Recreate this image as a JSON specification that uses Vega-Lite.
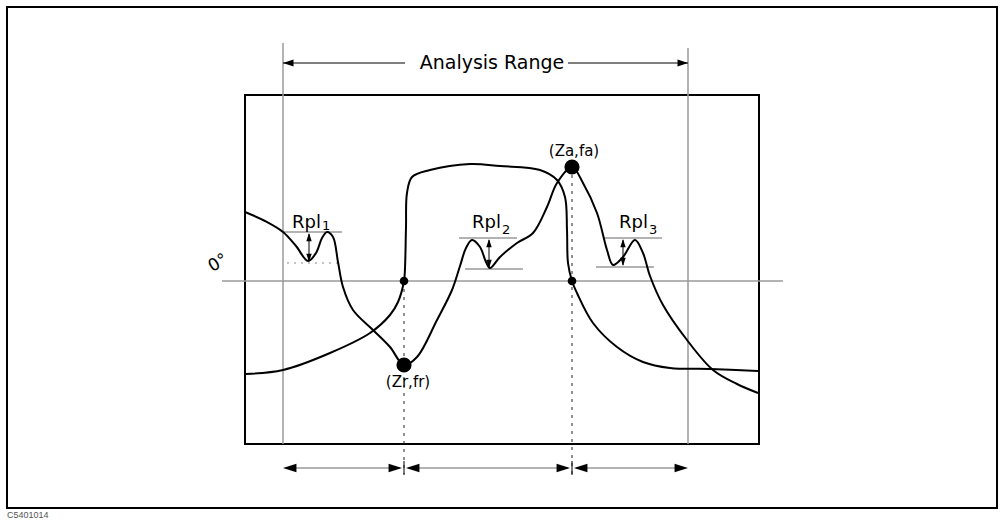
{
  "$schema": "https://vega.github.io/schema/vega-lite/v6.json",
  "width": 1002,
  "height": 521,
  "autosize": {"type": "none"},
  "padding": 0,
  "background": "white",
  "config": {"view": {"stroke": null}},
  "datasets": {
    "rects": [
      {"x": 7, "y": 7, "x2": 997, "y2": 508},
      {"x": 245, "y": 95, "x2": 759, "y2": 444}
    ],
    "gray": [
      {"x": 283, "x2": 283, "y": 43, "y2": 444},
      {"x": 688, "x2": 688, "y": 48, "y2": 444},
      {"x": 222, "x2": 783, "y": 281, "y2": 281},
      {"x": 283, "x2": 342, "y": 232, "y2": 232},
      {"x": 459, "x2": 517, "y": 238, "y2": 238},
      {"x": 465, "x2": 523, "y": 269, "y2": 269},
      {"x": 604, "x2": 662, "y": 238, "y2": 238},
      {"x": 596, "x2": 654, "y": 267, "y2": 267},
      {"x": 286, "x2": 400, "y": 468, "y2": 468},
      {"x": 408, "x2": 568, "y": 468, "y2": 468},
      {"x": 576, "x2": 685, "y": 468, "y2": 468}
    ],
    "dotted": [
      {"x": 287, "x2": 342, "y": 263, "y2": 263}
    ],
    "dashed": [
      {"x": 404, "x2": 404, "y": 281, "y2": 474},
      {"x": 572, "x2": 572, "y": 167, "y2": 474}
    ],
    "thin": [
      {"x": 283, "x2": 405, "y": 63, "y2": 63},
      {"x": 568, "x2": 688, "y": 63, "y2": 63},
      {"x": 309, "x2": 309, "y": 234, "y2": 261},
      {"x": 489, "x2": 489, "y": 240, "y2": 267},
      {"x": 623, "x2": 623, "y": 240, "y2": 265},
      {"x": 404, "x2": 404, "y": 461, "y2": 475},
      {"x": 572, "x2": 572, "y": 461, "y2": 475}
    ],
    "heads": [
      {"x": 283, "y": 63, "dir": 180, "k": "s"},
      {"x": 688, "y": 63, "dir": 0, "k": "s"},
      {"x": 309, "y": 233, "dir": 270, "k": "r"},
      {"x": 309, "y": 262, "dir": 90, "k": "r"},
      {"x": 489, "y": 239, "dir": 270, "k": "r"},
      {"x": 489, "y": 268, "dir": 90, "k": "r"},
      {"x": 623, "y": 239, "dir": 270, "k": "r"},
      {"x": 623, "y": 266, "dir": 90, "k": "r"},
      {"x": 283, "y": 468, "dir": 180, "k": "b"},
      {"x": 402, "y": 468, "dir": 0, "k": "b"},
      {"x": 406, "y": 468, "dir": 180, "k": "b"},
      {"x": 570, "y": 468, "dir": 0, "k": "b"},
      {"x": 574, "y": 468, "dir": 180, "k": "b"},
      {"x": 688, "y": 468, "dir": 0, "k": "b"}
    ],
    "curves": [
      {"id": "A", "o": 1, "x": 245, "y": 212},
      {"id": "A", "o": 2, "x": 265, "y": 221},
      {"id": "A", "o": 3, "x": 283, "y": 232},
      {"id": "A", "o": 4, "x": 296, "y": 246},
      {"id": "A", "o": 5, "x": 308, "y": 261},
      {"id": "A", "o": 6, "x": 316, "y": 253},
      {"id": "A", "o": 7, "x": 322, "y": 238},
      {"id": "A", "o": 8, "x": 327, "y": 232},
      {"id": "A", "o": 9, "x": 333, "y": 237},
      {"id": "A", "o": 10, "x": 338, "y": 262},
      {"id": "A", "o": 11, "x": 343, "y": 287},
      {"id": "A", "o": 12, "x": 353, "y": 310},
      {"id": "A", "o": 13, "x": 373, "y": 330},
      {"id": "A", "o": 14, "x": 390, "y": 347},
      {"id": "A", "o": 15, "x": 404, "y": 365},
      {"id": "A", "o": 16, "x": 417, "y": 357},
      {"id": "A", "o": 17, "x": 437, "y": 320},
      {"id": "A", "o": 18, "x": 452, "y": 290},
      {"id": "A", "o": 19, "x": 460, "y": 266},
      {"id": "A", "o": 20, "x": 466, "y": 248},
      {"id": "A", "o": 21, "x": 472, "y": 240},
      {"id": "A", "o": 22, "x": 480, "y": 247},
      {"id": "A", "o": 23, "x": 486, "y": 262},
      {"id": "A", "o": 24, "x": 490, "y": 268},
      {"id": "A", "o": 25, "x": 500, "y": 257},
      {"id": "A", "o": 26, "x": 517, "y": 243},
      {"id": "A", "o": 27, "x": 533, "y": 233},
      {"id": "A", "o": 28, "x": 547, "y": 207},
      {"id": "A", "o": 29, "x": 557, "y": 183},
      {"id": "A", "o": 30, "x": 572, "y": 167},
      {"id": "A", "o": 31, "x": 583, "y": 183},
      {"id": "A", "o": 32, "x": 597, "y": 213},
      {"id": "A", "o": 33, "x": 607, "y": 250},
      {"id": "A", "o": 34, "x": 613, "y": 265},
      {"id": "A", "o": 35, "x": 623, "y": 257},
      {"id": "A", "o": 36, "x": 635, "y": 240},
      {"id": "A", "o": 37, "x": 643, "y": 253},
      {"id": "A", "o": 38, "x": 650, "y": 276},
      {"id": "A", "o": 39, "x": 663, "y": 305},
      {"id": "A", "o": 40, "x": 687, "y": 340},
      {"id": "A", "o": 41, "x": 713, "y": 370},
      {"id": "A", "o": 42, "x": 737, "y": 384},
      {"id": "A", "o": 43, "x": 758, "y": 393},
      {"id": "B", "o": 1, "x": 246, "y": 374},
      {"id": "B", "o": 2, "x": 283, "y": 370},
      {"id": "B", "o": 3, "x": 330, "y": 353},
      {"id": "B", "o": 4, "x": 370, "y": 333},
      {"id": "B", "o": 5, "x": 390, "y": 315},
      {"id": "B", "o": 6, "x": 398, "y": 302},
      {"id": "B", "o": 7, "x": 404, "y": 281},
      {"id": "B", "o": 8, "x": 405, "y": 268},
      {"id": "B", "o": 9, "x": 406, "y": 227},
      {"id": "B", "o": 10, "x": 407, "y": 193},
      {"id": "B", "o": 11, "x": 412, "y": 177},
      {"id": "B", "o": 12, "x": 430, "y": 170},
      {"id": "B", "o": 13, "x": 470, "y": 164},
      {"id": "B", "o": 14, "x": 500, "y": 166},
      {"id": "B", "o": 15, "x": 540, "y": 170},
      {"id": "B", "o": 16, "x": 557, "y": 180},
      {"id": "B", "o": 17, "x": 565, "y": 197},
      {"id": "B", "o": 18, "x": 567, "y": 230},
      {"id": "B", "o": 19, "x": 568, "y": 263},
      {"id": "B", "o": 20, "x": 572, "y": 281},
      {"id": "B", "o": 21, "x": 577, "y": 293},
      {"id": "B", "o": 22, "x": 593, "y": 323},
      {"id": "B", "o": 23, "x": 617, "y": 347},
      {"id": "B", "o": 24, "x": 643, "y": 362},
      {"id": "B", "o": 25, "x": 670, "y": 368},
      {"id": "B", "o": 26, "x": 710, "y": 369},
      {"id": "B", "o": 27, "x": 758, "y": 371}
    ],
    "dots": [
      {"x": 404, "y": 281, "k": "minor"},
      {"x": 572, "y": 281, "k": "minor"},
      {"x": 404, "y": 365, "k": "major"},
      {"x": 572, "y": 167, "k": "major"}
    ],
    "texts": [
      {"x": 492, "y": 63, "label": "Analysis Range", "role": "title"},
      {"x": 292, "y": 228, "label": "Rpl", "role": "rpl"},
      {"x": 472, "y": 228, "label": "Rpl", "role": "rpl"},
      {"x": 619, "y": 228, "label": "Rpl", "role": "rpl"},
      {"x": 322, "y": 230, "label": "1", "role": "sub"},
      {"x": 502, "y": 234, "label": "2", "role": "sub"},
      {"x": 649, "y": 234, "label": "3", "role": "sub"},
      {"x": 408, "y": 382, "label": "(Zr,fr)", "role": "coord"},
      {"x": 574, "y": 151, "label": "(Za,fa)", "role": "coord"},
      {"x": 218, "y": 263, "label": "0°", "role": "zero"},
      {"x": 7, "y": 515, "label": "C5401014", "role": "foot"}
    ]
  },
  "encoding": {
    "x": {"field": "x", "type": "quantitative", "axis": null, "scale": {"domain": [0, 1002], "nice": false, "zero": false}},
    "y": {"field": "y", "type": "quantitative", "axis": null, "scale": {"domain": [0, 521], "nice": false, "zero": false, "reverse": true}}
  },
  "layer": [
    {
      "data": {"name": "rects"},
      "mark": {"type": "rect", "fillOpacity": 0, "stroke": "black", "strokeWidth": 2},
      "encoding": {"x2": {"field": "x2"}, "y2": {"field": "y2"}}
    },
    {
      "data": {"name": "gray"},
      "mark": {"type": "rule", "stroke": "#9a9a9a", "strokeWidth": 1.5},
      "encoding": {"x2": {"field": "x2"}, "y2": {"field": "y2"}}
    },
    {
      "data": {"name": "dotted"},
      "mark": {"type": "rule", "stroke": "#8a8a8a", "strokeWidth": 1.2, "strokeDash": [2, 5]},
      "encoding": {"x2": {"field": "x2"}, "y2": {"field": "y2"}}
    },
    {
      "data": {"name": "dashed"},
      "mark": {"type": "rule", "stroke": "#222", "strokeWidth": 1, "strokeDash": [3, 5]},
      "encoding": {"x2": {"field": "x2"}, "y2": {"field": "y2"}}
    },
    {
      "data": {"name": "thin"},
      "mark": {"type": "rule", "stroke": "black", "strokeWidth": 1},
      "encoding": {"x2": {"field": "x2"}, "y2": {"field": "y2"}}
    },
    {
      "data": {"name": "curves"},
      "mark": {"type": "line", "stroke": "black", "strokeWidth": 2, "interpolate": "catmull-rom"},
      "encoding": {
        "detail": {"field": "id"},
        "order": {"field": "o", "type": "quantitative"}
      }
    },
    {
      "data": {"name": "dots"},
      "transform": [{"filter": "datum.k === 'minor'"}],
      "mark": {"type": "circle", "size": 75, "fill": "black", "opacity": 1, "strokeWidth": 0}
    },
    {
      "data": {"name": "dots"},
      "transform": [{"filter": "datum.k === 'major'"}],
      "mark": {"type": "circle", "size": 230, "fill": "black", "opacity": 1, "strokeWidth": 0}
    },
    {
      "data": {"name": "heads"},
      "transform": [{"filter": "datum.k === 'b'"}],
      "mark": {"type": "point", "shape": "M0,0L-2,-0.65L-2,0.65Z", "size": 180, "filled": true, "fill": "black", "opacity": 1, "strokeWidth": 0},
      "encoding": {"angle": {"field": "dir", "type": "quantitative", "scale": null}}
    },
    {
      "data": {"name": "heads"},
      "transform": [{"filter": "datum.k === 's'"}],
      "mark": {"type": "point", "shape": "M0,0L-2,-0.65L-2,0.65Z", "size": 110, "filled": true, "fill": "black", "opacity": 1, "strokeWidth": 0},
      "encoding": {"angle": {"field": "dir", "type": "quantitative", "scale": null}}
    },
    {
      "data": {"name": "heads"},
      "transform": [{"filter": "datum.k === 'r'"}],
      "mark": {"type": "point", "shape": "M0,0L-2,-0.65L-2,0.65Z", "size": 70, "filled": true, "fill": "black", "opacity": 1, "strokeWidth": 0},
      "encoding": {"angle": {"field": "dir", "type": "quantitative", "scale": null}}
    },
    {
      "data": {"name": "texts"},
      "transform": [{"filter": "datum.role === 'title'"}],
      "mark": {"type": "text", "font": "DejaVu Sans", "fontSize": 19, "align": "center", "baseline": "middle", "fill": "black"},
      "encoding": {"text": {"field": "label"}}
    },
    {
      "data": {"name": "texts"},
      "transform": [{"filter": "datum.role === 'rpl'"}],
      "mark": {"type": "text", "font": "DejaVu Sans", "fontSize": 18, "align": "left", "baseline": "alphabetic", "fill": "black"},
      "encoding": {"text": {"field": "label"}}
    },
    {
      "data": {"name": "texts"},
      "transform": [{"filter": "datum.role === 'sub'"}],
      "mark": {"type": "text", "font": "DejaVu Sans", "fontSize": 13, "align": "left", "baseline": "alphabetic", "fill": "black"},
      "encoding": {"text": {"field": "label"}}
    },
    {
      "data": {"name": "texts"},
      "transform": [{"filter": "datum.role === 'coord'"}],
      "mark": {"type": "text", "font": "DejaVu Sans", "fontSize": 15, "align": "center", "baseline": "middle", "fill": "black"},
      "encoding": {"text": {"field": "label"}}
    },
    {
      "data": {"name": "texts"},
      "transform": [{"filter": "datum.role === 'zero'"}],
      "mark": {"type": "text", "font": "DejaVu Sans", "fontSize": 17, "align": "center", "baseline": "middle", "angle": 330, "fill": "black"},
      "encoding": {"text": {"field": "label"}}
    },
    {
      "data": {"name": "texts"},
      "transform": [{"filter": "datum.role === 'foot'"}],
      "mark": {"type": "text", "font": "Liberation Sans", "fontSize": 9, "align": "left", "baseline": "middle", "fill": "#555"},
      "encoding": {"text": {"field": "label"}}
    }
  ]
}
